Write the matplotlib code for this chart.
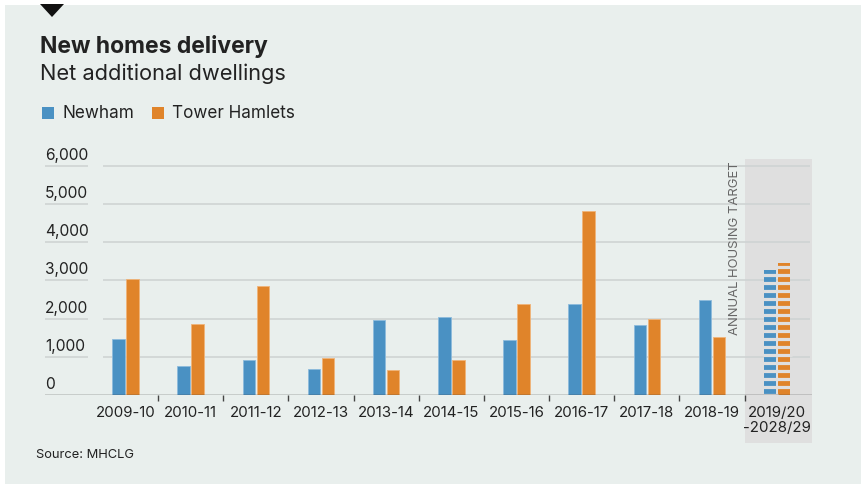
import numpy as np
import matplotlib
matplotlib.use("Agg")
import matplotlib.pyplot as plt
from matplotlib.patches import Rectangle, Polygon, Patch
import matplotlib.transforms as mtransforms

plt.rcParams['font.family'] = ['Inter', 'DejaVu Sans']

# data
years = ['2009-10', '2010-11', '2011-12', '2012-13', '2013-14', '2014-15',
         '2015-16', '2016-17', '2017-18', '2018-19']
newham = [1460, 750, 920, 680, 1970, 2040, 1435, 2380, 1830, 2485]
tower_hamlets = [3040, 1855, 2860, 970, 650, 910, 2380, 4820, 1990, 1515]
target_label = '2019/20\n-2028/29'
target_newham = 3280
target_tower = 3465
yticks = [0, 1000, 2000, 3000, 4000, 5000, 6000]

BLUE = '#4a91c3'
ORANGE = '#e0842a'
BG = '#e9efed'
SHADE = '#dfdfdf'
GRID = '#cfd4d3'
DARK = '#444444'
TXT = '#222222'

W, H = 868, 484
fig = plt.figure(figsize=(W / 100, H / 100), dpi=100)
fig.patch.set_facecolor('white')

def fx(x):
    return x / W

def fy(y):
    return 1 - y / H

# panel background + marker triangle
fig.patches.append(Rectangle((fx(5), 0), fx(861) - fx(5), fy(5), transform=fig.transFigure,
                             facecolor=BG, edgecolor='none', zorder=-10))
fig.patches.append(Polygon([(fx(40), fy(4)), (fx(64), fy(4)), (fx(52), fy(17))],
                           closed=True, transform=fig.transFigure, facecolor='#111111',
                           edgecolor='none'))

# axes: baseline at y=395px, top at 159px, from x=45 to 812px
ax = fig.add_axes([fx(45), fy(395), fx(812) - fx(45), (395 - 159) / H])
ax.patch.set_alpha(0)

cw = 65.33     # px per category
c0 = 125.7     # px of first category centre
xmin = (45 - c0) / cw
xmax = (814 - c0) / cw
ax.set_xlim(xmin, xmax)
ax.set_ylim(0, 6183)
for s in ax.spines.values():
    s.set_visible(False)

n = len(years)
x = np.arange(n)
bw = 12.5 / cw
off = 7.0 / cw

# shaded target region (reaches down over the tick label)
trans = mtransforms.blended_transform_factory(ax.transData, ax.transAxes)
ax.add_patch(Rectangle((n - 0.5, (395 - 443) / 236), xmax - (n - 0.5), 1 - (395 - 443) / 236,
                       transform=trans, facecolor=SHADE, edgecolor='none', zorder=0,
                       clip_on=False))

# gridlines + labels sitting above them
lab_end = (88 - c0) / cw
grid_start = (103 - c0) / cw
for v in yticks:
    if v > 0:
        ax.hlines(v, grid_start, xmax - 0.03, color=GRID, lw=1.2, zorder=1)
        ax.hlines(v, xmin, lab_end, color=GRID, lw=1.2, zorder=1)
    t = mtransforms.offset_copy(ax.transData, fig=fig, x=0, y=3, units='dots')
    ax.text(xmin, v, f'{v:,}', transform=t, ha='left', va='bottom', fontsize=11.2, color=TXT)

ax.bar(x - off, newham, bw, color=BLUE, edgecolor='#8dbbdc', lw=0.6, zorder=3)
ax.bar(x + off, tower_hamlets, bw, color=ORANGE, edgecolor='#f0b478', lw=0.6, zorder=3)

# target bars drawn dashed with horizontal gaps
step = 8 / 0.03817
for xc, val, col in [(n - off, target_newham, BLUE), (n + off, target_tower, ORANGE)]:
    ax.bar(xc, val, bw * 0.95, color=col, zorder=3)
    gaps = np.arange(val - 4.7 / 0.03817, 0, -step)
    ax.hlines(gaps, xc - bw * 0.6, xc + bw * 0.6, color=SHADE, lw=2.3, zorder=4)

ax.axhline(0, color=DARK, lw=1.0, zorder=5)

ax.set_xticks(list(x) + [n])
ax.set_xticklabels(years + [target_label], fontsize=10.8, color=TXT, linespacing=1.1)
ax.set_xticks(np.arange(0.5, n, 1), minor=True)
ax.tick_params(axis='x', which='major', length=0, pad=8)
ax.tick_params(axis='x', which='minor', length=4, width=1, color=DARK, direction='out')
ax.set_yticks([])

ax.text((737 - c0) / cw, (395 - 161) / 0.03817, 'ANNUAL HOUSING TARGET', rotation=90,
        ha='center', va='top', fontsize=9.4, color='#666666')

# titles, legend, source
fig.text(fx(40), fy(46), 'New homes delivery', fontsize=16.5, fontweight='bold', color=TXT,
         ha='left', va='center')
fig.text(fx(40), fy(74), 'Net additional dwellings', fontsize=15.7, color=TXT,
         ha='left', va='center')
handles = [Patch(facecolor=BLUE, label='Newham'), Patch(facecolor=ORANGE, label='Tower Hamlets')]
fig.legend(handles=handles, loc='center left', bbox_to_anchor=(fx(27), fy(114)), ncol=2,
           frameon=False, fontsize=12.3, handlelength=0.7, handleheight=0.7,
           handletextpad=0.5, columnspacing=1.0, labelcolor=TXT)
fig.text(fx(36), fy(455), 'Source: MHCLG', fontsize=9.3, color=TXT, ha='left', va='center')

plt.savefig('out.png', dpi=100, facecolor='white')
